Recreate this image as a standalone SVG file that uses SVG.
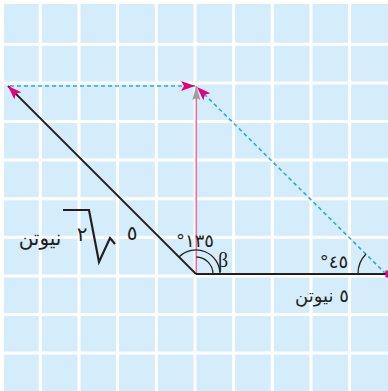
<svg xmlns="http://www.w3.org/2000/svg" width="388" height="391" viewBox="0 0 388 391">
<style>
.grid line{stroke:#ffffff;stroke-width:3}
.blk{stroke:#231f20;stroke-width:1.8;fill:none}
.dash{stroke:#29abe2;stroke-width:1.6;stroke-dasharray:4 3;fill:none}
.arc{stroke:#231f20;stroke-width:1.3;fill:none}
.ar{font-family:"DejaVu Sans","Noto Sans",sans-serif;font-size:18px;fill:#231f20;text-anchor:middle}
.big{font-size:20px}
.gr{font-family:"Liberation Serif","DejaVu Serif",serif;font-size:20px;fill:#231f20}
</style>
<defs>
<marker id="mag" markerUnits="userSpaceOnUse" markerWidth="16" markerHeight="12" refX="14" refY="5" orient="auto">
<path d="M0,0 L14,5 L0,10 L3,5 z" fill="#e5007e"/>
</marker>
<marker id="gray" markerUnits="userSpaceOnUse" markerWidth="16" markerHeight="12" refX="14" refY="4" orient="auto">
<path d="M0,0 L14,4 L0,8 L2,4 z" fill="#9d9d9c"/>
</marker>
</defs>
<rect x="4" y="4" width="384" height="387" fill="#d5edfb"/>
<g class="grid">
<line x1="40.3" y1="4" x2="40.3" y2="391"/>
<line x1="79" y1="4" x2="79" y2="391"/>
<line x1="117.6" y1="4" x2="117.6" y2="391"/>
<line x1="156.3" y1="4" x2="156.3" y2="391"/>
<line x1="195" y1="4" x2="195" y2="391"/>
<line x1="233.6" y1="4" x2="233.6" y2="391"/>
<line x1="272.3" y1="4" x2="272.3" y2="391"/>
<line x1="311" y1="4" x2="311" y2="391"/>
<line x1="349.6" y1="4" x2="349.6" y2="391"/>
<line x1="4" y1="44.3" x2="388" y2="44.3"/>
<line x1="4" y1="82.9" x2="388" y2="82.9"/>
<line x1="4" y1="121.5" x2="388" y2="121.5"/>
<line x1="4" y1="160.1" x2="388" y2="160.1"/>
<line x1="4" y1="198.7" x2="388" y2="198.7"/>
<line x1="4" y1="237.3" x2="388" y2="237.3"/>
<line x1="4" y1="275.9" x2="388" y2="275.9"/>
<line x1="4" y1="314.5" x2="388" y2="314.5"/>
<line x1="4" y1="353.1" x2="388" y2="353.1"/>
</g>
<g id="connectors">
<line class="dash" x1="10" y1="86" x2="195" y2="86" marker-end="url(#mag)"/>
<line class="dash" x1="386" y1="274" x2="197" y2="87" marker-end="url(#mag)"/>
<line x1="196.3" y1="274" x2="196.3" y2="86" stroke="#ec6fa0" stroke-width="1.6" marker-end="url(#gray)"/>
<line class="blk" x1="196" y1="274" x2="386" y2="274"/>
<line class="blk" x1="196" y1="274" x2="8" y2="86" marker-end="url(#mag)"/>
<rect x="385.5" y="270.5" width="2.5" height="7" fill="#e5007e"/>
</g>
<g id="angle-135">
<path class="arc" d="M220,274 A24,24 0 0 0 179,257"/>
<path class="arc" d="M213,274 A17,17 0 0 0 196.3,257"/>
<text class="ar" x="195" y="247">°١٣٥</text>
<text class="gr" x="218" y="267">β</text>
</g>
<g id="angle-45">
<path class="arc" d="M358,274 A28,28 0 0 1 366,254"/>
<text class="ar" x="334" y="268">°٤٥</text>
</g>
<g id="label-5N">
<text class="ar" x="322" y="302" direction="rtl">٥ نيوتن</text>
</g>
<g id="label-5r2N">
<text class="ar big" x="40" y="245">نيوتن</text>
<text class="ar big" x="82" y="241">٢</text>
<polyline points="63,210 89,210 99,262 110,238 115,244" fill="none" stroke="#231f20" stroke-width="2.2"/>
<text class="ar big" x="132" y="240">٥</text>
</g>
</svg>
